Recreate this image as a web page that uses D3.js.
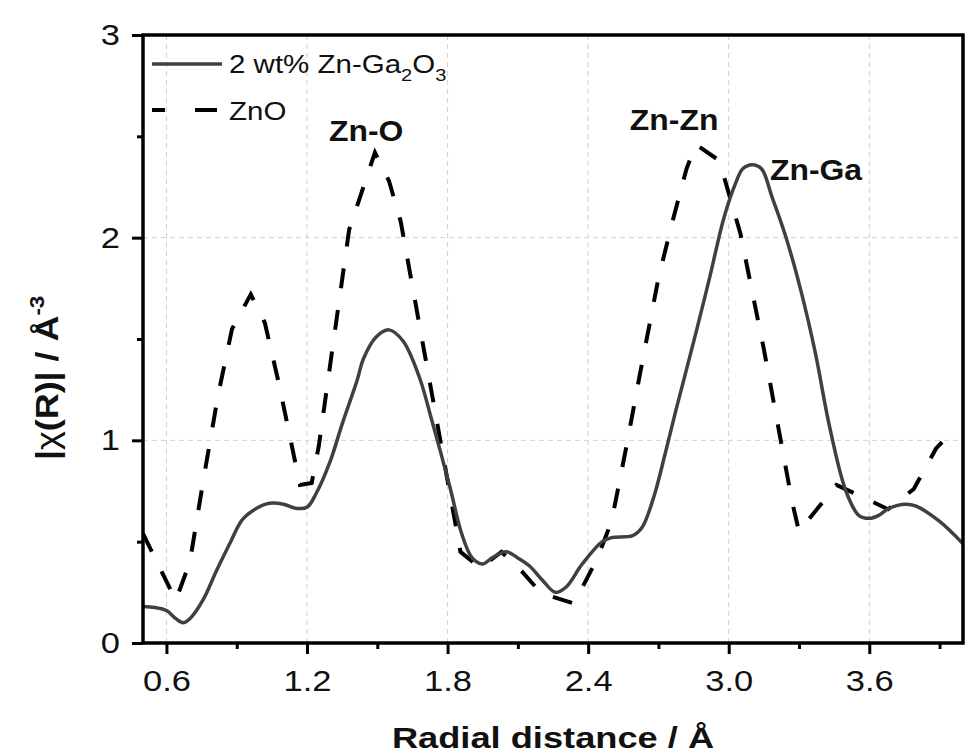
<!DOCTYPE html>
<html>
<head>
<meta charset="utf-8">
<script src="https://cdn.jsdelivr.net/npm/d3@7"></script>
<style>
  body { margin: 0; background: #fff; }
  svg { display: block; font-family: "Liberation Sans", Arial, sans-serif; }
</style>
</head>
<body>
<div class="chart"></div>
<script>
// 2 wt% Zn-Ga2O3 sample (solid line)
var sampleR = [0.50, 0.55, 0.60, 0.64, 0.67, 0.70, 0.755, 0.815, 0.87, 0.925, 0.985, 1.04, 1.10, 1.15, 1.20,
  1.24, 1.30, 1.35, 1.415, 1.44, 1.495, 1.55, 1.61, 1.68, 1.73, 1.81, 1.86, 1.905, 1.95, 1.99, 2.05, 2.10,
  2.15, 2.205, 2.26, 2.305, 2.375, 2.46, 2.50, 2.59, 2.63, 2.68, 2.73, 2.775, 2.86, 2.92, 2.98, 3.03, 3.06,
  3.10, 3.14, 3.185, 3.245, 3.31, 3.37, 3.43, 3.50, 3.555, 3.60, 3.64, 3.685, 3.755, 3.80, 3.90, 4.00];
var sampleChi = [0.18, 0.175, 0.16, 0.12, 0.10, 0.12, 0.21, 0.36, 0.49, 0.61, 0.665, 0.69, 0.685, 0.665, 0.67,
  0.74, 0.90, 1.08, 1.30, 1.40, 1.51, 1.545, 1.49, 1.31, 1.11, 0.77, 0.54, 0.42, 0.39, 0.42, 0.45, 0.42,
  0.38, 0.31, 0.25, 0.275, 0.39, 0.50, 0.52, 0.53, 0.57, 0.72, 0.94, 1.15, 1.53, 1.81, 2.10, 2.27, 2.34,
  2.36, 2.34, 2.20, 2.00, 1.73, 1.43, 1.07, 0.75, 0.63, 0.615, 0.63, 0.665, 0.685, 0.675, 0.60, 0.49];

// ZnO reference (dashed line)
var znoR = [0.50, 0.64, 0.70, 0.76, 0.82, 0.88, 0.96, 1.02, 1.08, 1.17, 1.22, 1.25, 1.38, 1.49, 1.55, 1.60,
  1.855, 1.94, 2.03, 2.12, 2.20, 2.34, 2.44, 2.50, 2.56, 2.62, 2.70, 2.76, 2.82, 2.86, 2.96, 3.05, 3.15,
  3.27, 3.30, 3.46, 3.59, 3.68, 3.79, 3.885, 3.95];
var znoChi = [0.54, 0.21, 0.40, 0.82, 1.22, 1.55, 1.72, 1.58, 1.28, 0.78, 0.79, 0.97, 2.04, 2.42, 2.28, 2.08,
  0.45, 0.37, 0.45, 0.35, 0.245, 0.195, 0.42, 0.60, 0.95, 1.32, 1.80, 2.08, 2.34, 2.46, 2.38, 2.02, 1.45,
  0.70, 0.55, 0.78, 0.71, 0.66, 0.76, 0.96, 1.04];

var xMajor = [0.6, 1.2, 1.8, 2.4, 3.0, 3.6];
var xMinor = [0.9, 1.5, 2.1, 2.7, 3.3, 3.9];
var yMajor = [0, 1, 2, 3];
var yMinor = [0.5, 1.5, 2.5];

var peakLabels = ["Zn-O", "Zn-Zn", "Zn-Ga"];
var peakAt = [[1.294, 2.477], [2.578, 2.531], [3.176, 2.284]];

var svgWidth = 974;
var svgHeight = 755;
var margin = {top: 35, right: 11, bottom: 112, left: 143};
var width = svgWidth - margin.left - margin.right;
var height = svgHeight - margin.top - margin.bottom;

var svg = d3.select(".chart")
  .append("svg")
  .attr("width", svgWidth)
  .attr("height", svgHeight);

var chartGroup = svg.append("g")
  .attr("transform", `translate(${margin.left}, ${margin.top})`);

var x = d3.scaleLinear().domain([0.5, 4.0]).range([0, width]);
var y = d3.scaleLinear().domain([0, 3]).range([height, 0]);

// grid
chartGroup.selectAll(".vgrid")
  .data(xMajor)
  .enter()
  .append("line")
  .attr("x1", d => x(d)).attr("x2", d => x(d))
  .attr("y1", 0).attr("y2", height)
  .attr("stroke", "#cfcfcf").attr("stroke-width", 1).attr("stroke-dasharray", "5,4");

chartGroup.selectAll(".hgrid")
  .data([1, 2])
  .enter()
  .append("line")
  .attr("x1", 0).attr("x2", width)
  .attr("y1", d => y(d)).attr("y2", d => y(d))
  .attr("stroke", "#cfcfcf").attr("stroke-width", 1).attr("stroke-dasharray", "5,4");

// curves
chartGroup.append("clipPath").attr("id", "plotclip")
  .append("rect").attr("width", width).attr("height", height);

var sampleLine = d3.line()
  .x(d => x(d[0])).y(d => y(d[1]))
  .curve(d3.curveCatmullRom.alpha(0.5));
var znoLine = d3.line()
  .x(d => x(d[0])).y(d => y(d[1]));

chartGroup.append("path")
  .datum(znoR.map((r, i) => [r, znoChi[i]]))
  .attr("d", znoLine)
  .attr("clip-path", "url(#plotclip)")
  .attr("fill", "none")
  .attr("stroke", "#000")
  .attr("stroke-width", 4)
  .attr("stroke-dasharray", "20,22");

chartGroup.append("path")
  .datum(sampleR.map((r, i) => [r, sampleChi[i]]))
  .attr("d", sampleLine)
  .attr("clip-path", "url(#plotclip)")
  .attr("fill", "none")
  .attr("stroke", "#404040")
  .attr("stroke-width", 3.5);

// axes
var bottomAxis = d3.axisBottom(x).tickValues(xMajor).tickSize(11).tickPadding(16)
  .tickFormat(d3.format(".1f"));
var bottomMinor = d3.axisBottom(x).tickValues(xMinor).tickSize(6).tickFormat("");
var leftAxis = d3.axisLeft(y).tickValues(yMajor).tickSize(11).tickPadding(10)
  .tickFormat(d3.format("d"));
var leftMinor = d3.axisLeft(y).tickValues(yMinor).tickSize(6).tickFormat("");

function styleAxis(g) {
  g.select(".domain").remove();
  g.selectAll(".tick line").attr("stroke", "#000").attr("stroke-width", 3);
  g.selectAll(".tick text").attr("fill", "#111").style("font-size", "30px");
}

chartGroup.append("g")
  .attr("transform", `translate(0, ${height})`)
  .call(bottomAxis).call(styleAxis)
  .selectAll(".tick text")
  .attr("transform", "scale(1.15,1)");
chartGroup.append("g")
  .attr("transform", `translate(0, ${height})`)
  .call(bottomMinor).call(styleAxis);
chartGroup.append("g")
  .call(leftAxis).call(styleAxis)
  .selectAll(".tick text")
  .attr("x", -20)
  .attr("transform", "scale(1.15,1)");
chartGroup.append("g")
  .call(leftMinor).call(styleAxis);

// frame
chartGroup.append("rect")
  .attr("width", width).attr("height", height)
  .attr("fill", "none").attr("stroke", "#000").attr("stroke-width", 3.5);

// peak labels
chartGroup.selectAll(".peak")
  .data(peakLabels)
  .enter()
  .append("text")
  .attr("transform", (d, i) => `translate(${x(peakAt[i][0])}, ${y(peakAt[i][1])}) scale(1.1,1)`)
  .attr("font-size", "29px")
  .attr("font-weight", "bold")
  .attr("fill", "#111")
  .text(d => d);

// legend
var legend = svg.append("g");
legend.append("line")
  .attr("x1", 152).attr("x2", 222).attr("y1", 64).attr("y2", 64)
  .attr("stroke", "#404040").attr("stroke-width", 3.5);
legend.append("line")
  .attr("x1", 152).attr("x2", 222).attr("y1", 110).attr("y2", 110)
  .attr("stroke", "#000").attr("stroke-width", 4)
  .attr("stroke-dasharray", "13,30,22,100");

var lt1 = legend.append("text")
  .attr("transform", "translate(229, 73) scale(1.18,1)")
  .attr("font-size", "25px").attr("fill", "#111");
lt1.append("tspan").text("2 wt% Zn-Ga");
lt1.append("tspan").attr("dy", 8).attr("font-size", "17px").text("2");
lt1.append("tspan").attr("dy", -8).text("O");
lt1.append("tspan").attr("dy", 8).attr("font-size", "17px").text("3");

legend.append("text")
  .attr("transform", "translate(229, 120) scale(1.18,1)")
  .attr("font-size", "25px").attr("fill", "#111")
  .text("ZnO");

// axis titles
svg.append("text")
  .attr("transform", `translate(${margin.left + width / 2}, 748) scale(1.25,1)`)
  .attr("text-anchor", "middle")
  .attr("font-size", "29px")
  .attr("font-weight", "bold")
  .attr("fill", "#111")
  .text("Radial distance / Å");

var yTitle = svg.append("text")
  .attr("transform", "translate(58, 460) rotate(-90) scale(1.12,1)")
  .attr("font-size", "32px")
  .attr("font-weight", "bold")
  .attr("fill", "#111");
yTitle.append("tspan").text("|");
yTitle.append("tspan").attr("font-weight", "normal").text("χ");
yTitle.append("tspan").text("(R)| / Å");
yTitle.append("tspan").attr("dy", -14).attr("font-size", "20px").text("-3");
</script>
</body>
</html>
